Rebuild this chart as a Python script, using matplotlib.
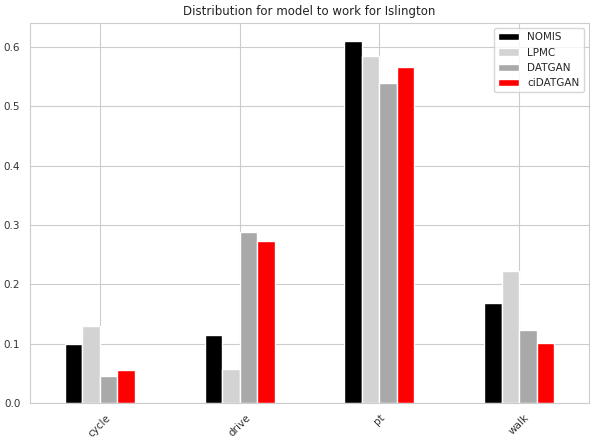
import matplotlib
matplotlib.use("Agg")
import matplotlib.pyplot as plt
import seaborn as sns
import numpy as np

categories = ["cycle", "drive", "pt", "walk"]
series_names = ["NOMIS", "LPMC", "DATGAN", "ciDATGAN"]
nomis = [0.100, 0.115, 0.610, 0.169]
lpmc = [0.129, 0.058, 0.585, 0.222]
datgan = [0.045, 0.288, 0.540, 0.123]
cidatgan = [0.055, 0.273, 0.566, 0.101]
colors = ["black", "lightgrey", "darkgrey", "red"]

sns.set_style("whitegrid")
plt.rcParams['font.family'] = ['DejaVu Sans']

fig = plt.figure(figsize=(5.95, 4.43), dpi=100)
ax = fig.add_axes([30 / 595, 1 - 403 / 443, (589 - 30) / 595, (403 - 23) / 443])

values = [nomis, lpmc, datgan, cidatgan]
n = len(values)
total_w = 0.5
w = total_w / n
x = np.arange(len(categories))
for i, (name, vals, c) in enumerate(zip(series_names, values, colors)):
    ax.bar(x - total_w / 2 + w * (i + 0.5), vals, width=w, color=c, label=name,
           edgecolor="white", linewidth=1)

ax.set_xlim(-0.5, len(categories) - 0.5)
ax.set_xticks(x)
ax.set_xticklabels(categories, rotation=45, fontsize=7.5, color="#333333")
ax.tick_params(axis="y", labelsize=7.5, labelcolor="#333333")
ax.set_title("Distribution for model to work for Islington", fontsize=8.5, color="#222222")
ax.legend(fontsize=7.5, loc="upper right")
for s in ax.spines.values():
    s.set_color("#cccccc")
fig.savefig("out.png", dpi=100)
